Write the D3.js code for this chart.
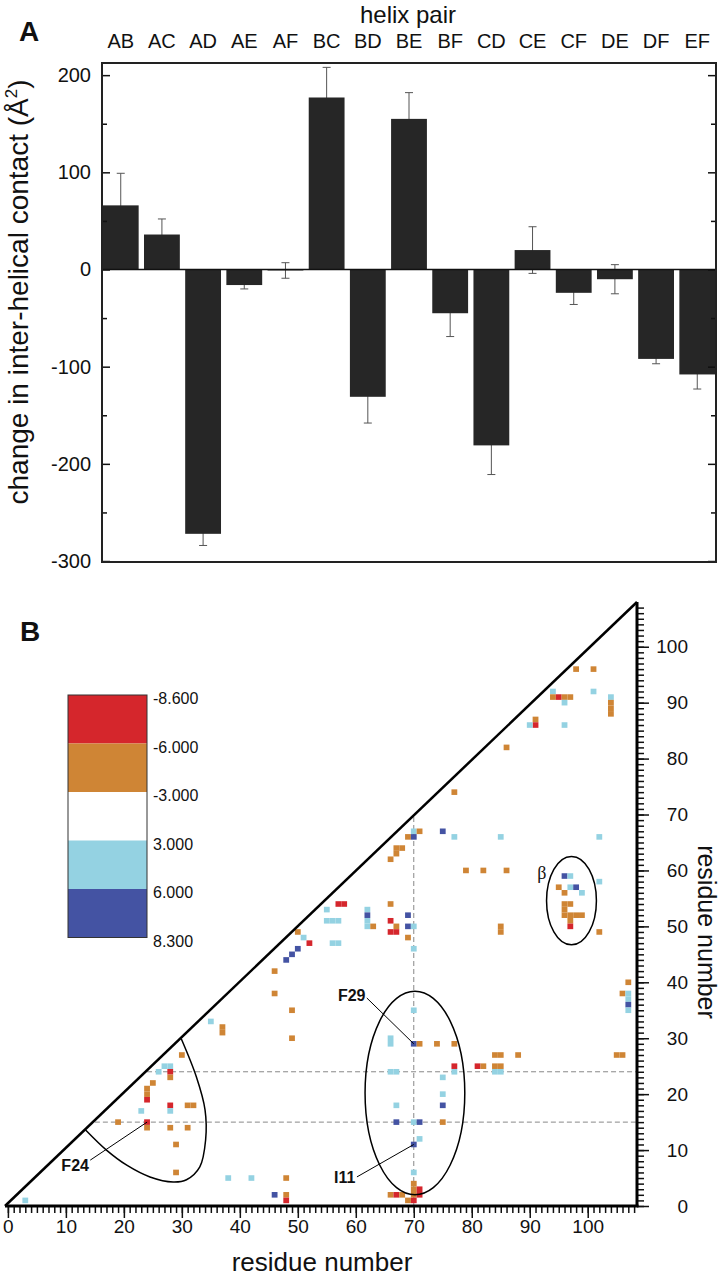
<!DOCTYPE html>
<html>
<head>
<meta charset="utf-8">
<script src="https://cdn.jsdelivr.net/npm/d3@7/dist/d3.min.js"></script>
<style>
html,body{margin:0;padding:0;background:#fff;}
svg{display:block;}
text{font-family:"Liberation Sans",Arial,Helvetica,sans-serif;fill:#111;}
</style>
</head>
<body>
<svg id="chart" width="722" height="1280"></svg>
<script>
// ---------- Panel A data ----------
const helixPairs = ["AB","AC","AD","AE","AF","BC","BD","BE","BF","CD","CE","CF","DE","DF","EF"];
const contactChange = [66,36,-272,-16,-1,177,-131,155,-45,-181,20,-24,-10,-92,-108];
const contactError = [33,16,12,4,8,31,27,27,24,30,24,12,15,5,15];
const yTicksA = [-300,-200,-100,0,100,200];
const yMinorA = [-250,-150,-50,50,150];

// ---------- Panel B data ----------
const legendBreaks = [-8.6,-6,-3,3,6,8.3];
const legendColors = ["#d5262c","#cf8535","#ffffff","#94d2e2","#4453a3"];
const axisTicksB = [0,10,20,30,40,50,60,70,80,90,100];
const resX = [98,101,94,101,94,95,96,97,104,96,
  104,104,104,91,91,90,96,86,77,70,
  71,75,69,70,77,85,102,67,68,67,
  66,79,82,86,96,97,102,95,97,98,
  96,99,57,58,66,96,97,55,62,96,
  62,69,96,97,98,99,55,56,57,62,
  66,97,62,63,67,69,70,85,97,50,
  66,67,85,102,51,69,52,56,57,50,
  70,49,48,46,107,46,106,107,107,107,
  49,70,107,35,37,37,49,66,66,70,
  71,74,77,30,84,85,88,105,106,27,
  28,77,81,82,84,85,26,28,66,67,
  77,84,85,28,75,25,24,24,75,24,
  28,31,32,67,75,23,28,19,24,67,
  70,71,75,24,28,31,71,29,70,29,
  70,38,42,48,70,70,71,46,48,66,
  67,68,70,71,3,48,69,70];
const resY = [96,96,92,92,91,91,91,91,91,90,
  90,89,88,87,86,86,86,82,74,67,
  67,67,66,66,66,66,66,64,64,63,
  62,60,60,60,59,59,58,57,57,57,
  56,56,54,54,54,54,54,53,53,53,
  52,52,52,52,52,52,51,51,51,51,
  51,51,50,50,50,50,50,50,50,49,
  49,49,49,49,48,48,47,47,47,46,
  46,45,44,42,40,38,38,38,37,36,
  35,35,35,33,32,31,30,30,29,29,
  29,29,29,27,27,27,27,27,27,25,
  25,25,25,25,25,25,24,24,24,24,
  24,24,24,23,23,22,21,20,20,19,
  18,18,18,18,18,17,17,15,15,15,
  15,15,15,14,14,14,12,11,11,6,
  6,5,5,5,4,3,3,2,2,2,
  2,2,2,2,1,1,1,1];
const contactDelta = [-4.5,-4.5,4.5,4.5,-4.5,-7.3,-4.5,-4.5,4.5,4.5,
  -4.5,-4.5,-4.5,-4.5,-7.3,4.5,4.5,-4.5,-4.5,4.5,
  -4.5,7.1,-4.5,7.1,4.5,4.5,4.5,-4.5,-4.5,-4.5,
  -4.5,-4.5,-4.5,-4.5,7.1,4.5,4.5,-4.5,4.5,7.1,
  -4.5,4.5,-7.3,-7.3,-4.5,-4.5,-4.5,4.5,4.5,-4.5,
  7.1,7.1,-4.5,-4.5,-4.5,-4.5,4.5,4.5,4.5,4.5,
  -7.3,-4.5,4.5,-4.5,-4.5,7.1,4.5,-4.5,-7.3,-4.5,
  -7.3,-7.3,-4.5,-4.5,4.5,-4.5,-7.3,4.5,4.5,7.1,
  4.5,7.1,7.1,-4.5,-4.5,-4.5,-4.5,4.5,4.5,7.1,
  -4.5,4.5,4.5,4.5,-4.5,-4.5,-4.5,4.5,4.5,7.1,
  -4.5,-4.5,-4.5,-4.5,-4.5,-4.5,-4.5,-4.5,-4.5,4.5,
  4.5,-7.3,-7.3,-4.5,-4.5,-4.5,4.5,-7.3,4.5,4.5,
  4.5,4.5,4.5,-4.5,4.5,-4.5,-4.5,-4.5,4.5,-7.3,
  -7.3,-4.5,-4.5,4.5,7.1,4.5,4.5,-4.5,-7.3,7.1,
  4.5,7.1,-4.5,-4.5,-4.5,-4.5,4.5,-4.5,7.1,-4.5,
  4.5,4.5,4.5,-4.5,-4.5,-4.5,-7.3,7.1,-4.5,-4.5,
  -7.3,-4.5,-4.5,-7.3,4.5,-7.3,-4.5,-7.3];

// annotation geometry (in residue units)
const f24Region = [[29.9,29.9],[32.5,23.1],[34.0,17.2],[34.1,11.8],[33.1,7.0],[30.8,4.7],[28.5,4.3],[24.5,5.2],[20.5,7.3],[17.0,10.0],[13.4,13.6]];

const svg = d3.select("#chart");

// ================= Panel A =================
const A = {l:102, r:716, t:63, b:562};
const xA = d3.scaleBand().domain(helixPairs).range([A.l, A.r]).paddingInner(0.13).paddingOuter(0.02);
const yA = d3.scaleLinear().domain([-301, 212.5]).range([A.b, A.t]);
const gA = svg.append("g");

const eb = gA.append("g").attr("stroke", "#555").attr("stroke-width", 1);
helixPairs.forEach((p, i) => {
  const cx = xA(p) + xA.bandwidth() / 2;
  const y1 = yA(contactChange[i] - contactError[i]);
  const y2 = yA(contactChange[i] + contactError[i]);
  eb.append("line").attr("x1", cx).attr("x2", cx).attr("y1", y1).attr("y2", y2);
  eb.append("line").attr("x1", cx - 4).attr("x2", cx + 4).attr("y1", y1).attr("y2", y1);
  eb.append("line").attr("x1", cx - 4).attr("x2", cx + 4).attr("y1", y2).attr("y2", y2);
});

gA.selectAll("rect.bar").data(helixPairs).join("rect").attr("class", "bar")
  .attr("x", d => xA(d)).attr("width", xA.bandwidth())
  .attr("y", (d, i) => yA(Math.max(0, contactChange[i])))
  .attr("height", (d, i) => Math.abs(yA(contactChange[i]) - yA(0)))
  .attr("fill", "#262626");

function styleAxis(g, fs) {
  g.attr("font-size", null).attr("font-family", null);
  g.select(".domain").remove();
  g.selectAll(".tick line").attr("stroke", "#111").attr("stroke-width", 1.5);
  g.selectAll(".tick text").attr("font-size", fs).attr("fill", "#111");
}
const plain = d => String(d);
styleAxis(gA.append("g").attr("transform", `translate(${A.l},0)`)
  .call(d3.axisLeft(yA).tickValues(yTicksA).tickSize(-8).tickPadding(11).tickFormat(plain)), 20);
styleAxis(gA.append("g").attr("transform", `translate(${A.l},0)`)
  .call(d3.axisLeft(yA).tickValues(yMinorA).tickSize(-5).tickFormat("")), 20);
styleAxis(gA.append("g").attr("transform", `translate(${A.r},0)`)
  .call(d3.axisRight(yA).tickValues(yTicksA).tickSize(-8).tickFormat("")), 20);
styleAxis(gA.append("g").attr("transform", `translate(${A.r},0)`)
  .call(d3.axisRight(yA).tickValues(yMinorA).tickSize(-5).tickFormat("")), 20);

gA.append("line").attr("x1", A.l).attr("x2", A.r).attr("y1", yA(0)).attr("y2", yA(0))
  .attr("stroke", "#111").attr("stroke-width", 1.5);
gA.append("rect").attr("x", A.l).attr("y", A.t).attr("width", A.r - A.l).attr("height", A.b - A.t)
  .attr("fill", "none").attr("stroke", "#222").attr("stroke-width", 2);

gA.selectAll("text.cat").data(helixPairs).join("text").attr("class", "cat")
  .attr("x", d => xA(d) + xA.bandwidth() / 2).attr("y", 48)
  .attr("text-anchor", "middle").attr("font-size", 20).text(d => d);
gA.append("text").attr("x", 408).attr("y", 23).attr("text-anchor", "middle")
  .attr("font-size", 24).text("helix pair");
gA.append("text").attr("x", 19).attr("y", 41).attr("font-size", 28).attr("font-weight", "bold").text("A");
const yl = gA.append("text").attr("transform", `translate(28,292) rotate(-90)`)
  .attr("text-anchor", "middle").attr("font-size", 28);
yl.append("tspan").text("change in inter-helical contact (Å");
yl.append("tspan").attr("font-size", 17).attr("dy", -11).text("2");
yl.append("tspan").attr("dy", 11).text(")");

// ================= Panel B =================
const B = {l:5, r:637, t:602, b:1206};
const xB = d3.scaleLinear().domain([-0.5, 108.5]).range([B.l, B.r]);
const yB = d3.scaleLinear().domain([0, 108]).range([B.b, B.t]);
const color = d3.scaleThreshold().domain(legendBreaks.slice(1, -1)).range(legendColors);
const gB = svg.append("g");

const dash = gB.append("g").attr("stroke", "#888").attr("stroke-width", 1).attr("stroke-dasharray", "5,3");
dash.append("line").attr("x1", xB(70)).attr("x2", xB(70)).attr("y1", yB(0)).attr("y2", yB(70));
dash.append("line").attr("x1", xB(24)).attr("x2", xB(108.5)).attr("y1", yB(24)).attr("y2", yB(24));
dash.append("line").attr("x1", xB(15)).attr("x2", xB(108.5)).attr("y1", yB(15)).attr("y2", yB(15));

const cw = xB(1) - xB(0), ch = yB(0) - yB(1);
gB.selectAll("rect.cell").data(contactDelta).join("rect").attr("class", "cell")
  .attr("x", (d, i) => xB(resX[i]) - cw / 2)
  .attr("y", (d, i) => yB(resY[i]) - ch / 2)
  .attr("width", cw).attr("height", ch)
  .attr("fill", d => color(d));

gB.append("line").attr("x1", xB(-0.5)).attr("y1", yB(0)).attr("x2", xB(108.5)).attr("y2", yB(108))
  .attr("stroke", "#000").attr("stroke-width", 2.5);

const gBot = gB.append("g").attr("transform", `translate(0,${B.b})`);
styleAxis(gBot.append("g").call(d3.axisBottom(xB).tickValues(d3.range(0, 109, 1)).tickSize(7).tickFormat("")), 19);
styleAxis(gBot.append("g").call(d3.axisBottom(xB).tickValues(axisTicksB).tickSize(12).tickPadding(2)), 19);
const gRt = gB.append("g").attr("transform", `translate(${B.r},0)`);
styleAxis(gRt.append("g").call(d3.axisRight(yB).tickValues(d3.range(0, 108, 1)).tickSize(7).tickFormat("")), 19);
const rtMajor = gRt.append("g").call(d3.axisRight(yB).tickValues(axisTicksB).tickSize(12).tickPadding(4));
styleAxis(rtMajor, 19);
rtMajor.selectAll(".tick text").attr("text-anchor", "end").attr("x", 51);

gB.append("line").attr("x1", B.l).attr("x2", B.r + 1.5).attr("y1", B.b).attr("y2", B.b).attr("stroke", "#000").attr("stroke-width", 3);
gB.append("line").attr("x1", B.r).attr("x2", B.r).attr("y1", B.t).attr("y2", B.b).attr("stroke", "#000").attr("stroke-width", 3);

gB.append("text").attr("x", 322).attr("y", 1271).attr("text-anchor", "middle").attr("font-size", 26).text("residue number");
gB.append("text").attr("transform", `translate(698,932) rotate(90)`).attr("text-anchor", "middle")
  .attr("font-size", 25).text("residue number");
gB.append("text").attr("x", 20).attr("y", 641).attr("font-size", 28).attr("font-weight", "bold").text("B");

const ann = gB.append("g").attr("fill", "none").attr("stroke", "#000").attr("stroke-width", 1.5);
ann.append("ellipse").attr("cx", xB(70.2)).attr("cy", yB(20.2))
  .attr("rx", xB(8.6) - xB(0)).attr("ry", yB(0) - yB(18.2));
ann.append("ellipse").attr("cx", xB(97.2)).attr("cy", yB(54.6))
  .attr("rx", xB(4.3) - xB(0)).attr("ry", yB(0) - yB(7.9));
ann.append("path").attr("d", d3.line().x(d => xB(d[0])).y(d => yB(d[1])).curve(d3.curveCatmullRom)(f24Region));

const lead = gB.append("g").attr("stroke", "#000").attr("stroke-width", 1);
lead.append("line").attr("x1", xB(14.2)).attr("y1", yB(8.2)).attr("x2", xB(24)).attr("y2", yB(15));
lead.append("line").attr("x1", xB(61.9)).attr("y1", yB(37.2)).attr("x2", xB(70)).attr("y2", yB(29));
lead.append("line").attr("x1", xB(60.2)).attr("y1", yB(5.2)).attr("x2", xB(70)).attr("y2", yB(11));

const lab = (x, y, t) => gB.append("text").attr("x", xB(x)).attr("y", yB(y) + 6)
  .attr("text-anchor", "middle").attr("font-size", 16).attr("font-weight", "bold").text(t);
lab(11.6, 7.3, "F24");
lab(59.3, 37.7, "F29");
lab(58.1, 5.1, "I11");
gB.append("text").attr("x", xB(92.1)).attr("y", yB(59.5) + 6).attr("text-anchor", "middle")
  .attr("font-size", 18).style("font-family", "'Liberation Serif','DejaVu Serif',serif").text("β");

const Lg = {x:68, y:695, w:79, h:242.5};
const yL = d3.scaleBand().domain(d3.range(legendColors.length)).range([Lg.y, Lg.y + Lg.h]);
gB.selectAll("rect.leg").data(legendColors).join("rect").attr("class", "leg")
  .attr("x", Lg.x).attr("y", (d, i) => yL(i)).attr("width", Lg.w).attr("height", yL.bandwidth())
  .attr("fill", d => d);
gB.append("rect").attr("x", Lg.x).attr("y", Lg.y).attr("width", Lg.w).attr("height", Lg.h)
  .attr("fill", "none").attr("stroke", "#333").attr("stroke-width", 1);
gB.selectAll("text.legt").data(legendBreaks).join("text").attr("class", "legt")
  .attr("x", Lg.x + Lg.w + 6).attr("y", (d, i) => Lg.y + i * yL.bandwidth() + 9)
  .attr("font-size", 16).text(d => d3.format(".3f")(d).replace("\u2212", "-"));
</script>
</body>
</html>
